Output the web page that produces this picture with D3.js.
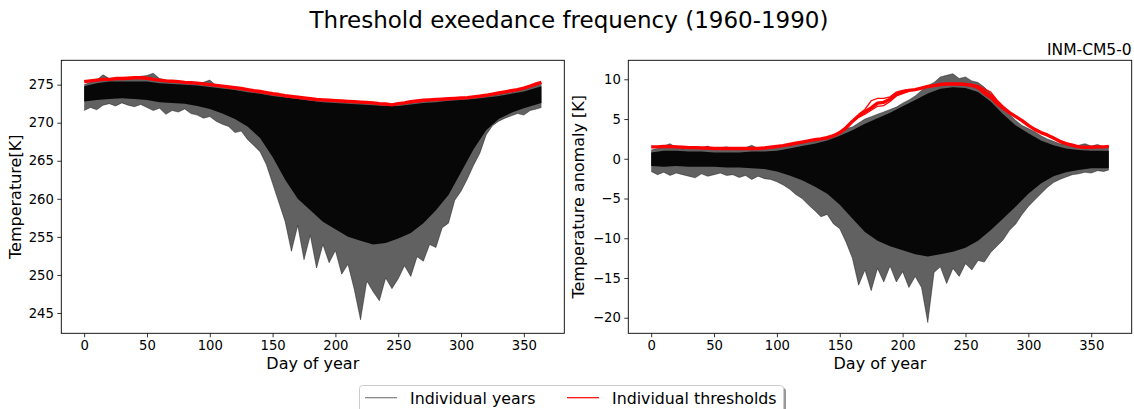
<!DOCTYPE html>
<html>
<head>
<meta charset="utf-8">
<script src="https://cdn.jsdelivr.net/npm/d3@7"></script>
<style>
  body { margin: 0; background: #fff; }
  svg { display: block; font-family: "DejaVu Sans", sans-serif; }
</style>
</head>
<body>
<svg id="chart" width="1134" height="409"></svg>
<script>
// Day of year sampling (every 5 days, plus the last day)
const days = d3.range(0, 365, 5).concat([364]);
const coreDays = d3.range(0, 361, 10).concat([364]);

// Left panel: absolute temperature [K]
const thrL = [
  275.4, 275.5, 275.6, 275.7, 275.7, 275.8, 275.8, 275.85, 275.9, 275.9,
  275.85, 275.7, 275.6, 275.5, 275.45, 275.4, 275.3, 275.25, 275.2, 275.1,
  275.0, 274.9, 274.8, 274.7, 274.6, 274.5, 274.35, 274.2, 274.1, 273.95,
  273.8, 273.7, 273.55, 273.45, 273.35, 273.25, 273.15, 273.05, 273.0, 272.95,
  272.9, 272.85, 272.8, 272.75, 272.7, 272.65, 272.6, 272.5, 272.45, 272.35,
  272.5, 272.6, 272.75, 272.85, 272.95, 273.0, 273.05, 273.1, 273.15, 273.2,
  273.25, 273.3, 273.4, 273.5, 273.6, 273.75, 273.9, 274.05, 274.2, 274.35,
  274.55, 274.8, 275.1, 275.3];
const hiL = [
  275.0, 275.3, 275.6, 276.3, 275.8, 275.9, 275.7, 276.0, 275.9, 276.1,
  276.2, 276.5, 275.8, 275.6, 275.5, 275.3, 275.4, 275.2, 275.1, 275.3,
  275.6, 274.9, 274.8, 274.6, 274.7, 274.4, 274.3, 274.2, 274.0, 273.9,
  273.8, 273.6, 273.5, 273.4, 273.3, 273.2, 273.1, 273.0, 272.9, 272.9,
  272.8, 272.8, 272.7, 272.7, 272.6, 272.6, 272.5, 272.4, 272.4, 272.3,
  272.4, 272.5, 272.6, 272.7, 272.8, 272.9, 273.0, 273.0, 273.1, 273.1,
  273.2, 273.2, 273.3, 273.4, 273.5, 273.6, 273.7, 273.9, 274.0, 274.2,
  274.4, 274.6, 274.9, 275.1];
const loL = [
  271.6, 272.0, 271.7, 272.3, 272.5, 272.2, 272.6, 272.3, 272.1, 272.4,
  272.0, 271.6, 271.9, 271.1, 271.6, 271.4, 271.8, 271.2, 271.0, 270.6,
  270.8, 270.2, 269.8, 269.5, 268.7, 268.9, 267.8, 267.0, 266.2, 264.5,
  262.0, 259.5, 257.0, 253.1, 256.5, 252.0, 255.2, 250.9, 254.0, 251.6,
  253.2, 250.1, 251.4, 248.1, 244.1, 249.2, 247.8, 246.6, 249.6, 248.2,
  249.5, 251.2, 249.8, 252.4, 251.8, 254.0, 253.6, 256.2, 256.8, 259.8,
  261.0, 262.6, 264.4, 266.0, 268.4, 269.6, 270.2, 270.6, 270.9, 271.2,
  271.0, 271.6, 271.8, 272.0];
const coreHiL = [
  274.8, 275.2, 275.4, 275.4, 275.4, 275.4, 275.2, 275.1, 275.0, 274.9,
  274.7, 274.5, 274.3, 274.0, 273.8, 273.5, 273.3, 273.1, 272.9, 272.7,
  272.6, 272.5, 272.4, 272.3, 272.2, 272.2, 272.4, 272.6, 272.7, 272.9,
  273.0, 273.1, 273.3, 273.5, 273.8, 274.1, 274.6, 274.8];
const coreLoL = [
  272.8, 273.0, 273.1, 273.2, 273.1, 273.0, 272.7, 272.6, 272.5, 272.2,
  271.8, 271.2, 270.5, 269.5, 268.0, 265.5, 262.5, 260.0, 258.5, 257.0,
  256.0, 255.0, 254.5, 254.0, 254.2, 254.8, 255.5, 256.8, 258.5, 260.5,
  263.5, 266.5, 269.0, 270.5, 271.3, 271.9, 272.4, 272.6];

// Right panel: temperature anomaly [K]
const thrR = [
  1.5, 1.5, 1.55, 1.55, 1.5, 1.45, 1.4, 1.4, 1.35, 1.35,
  1.3, 1.3, 1.3, 1.3, 1.3, 1.3, 1.3, 1.3, 1.35, 1.45,
  1.55, 1.65, 1.8, 1.95, 2.1, 2.25, 2.4, 2.5, 2.65, 2.9,
  3.3, 3.9, 4.7, 5.4, 5.9, 6.4, 7.0, 7.1, 7.5, 8.1,
  8.4, 8.6, 8.7, 8.9, 9.1, 9.2, 9.35, 9.4, 9.4, 9.4,
  9.35, 9.25, 9.0, 8.4, 7.9, 7.0, 6.4, 5.8, 5.3, 4.8,
  4.2, 3.7, 3.3, 3.0, 2.6, 2.2, 1.9, 1.7, 1.5, 1.45,
  1.45, 1.5, 1.5, 1.55];
// threshold spread where the individual thresholds split apart
const thrVarDays1 = [165, 170, 175, 180, 185, 190, 195, 200, 205];
const thrVarA1 = [5.6, 6.2, 7.3, 7.6, 7.6, 7.8, 8.4, 8.6, 8.7];
const thrVarB1 = [5.2, 5.6, 6.1, 6.6, 6.7, 7.2, 7.9, 8.2, 8.5];
const thrVarDays2 = [255, 260, 265, 270, 275, 280, 285];
const thrVarA2 = [9.3, 9.2, 8.8, 8.4, 7.4, 6.6, 5.9];
const thrVarB2 = [9.2, 8.8, 8.1, 7.6, 6.8, 6.2, 5.7];
const hiR = [
  1.1, 1.3, 1.6, 1.9, 1.4, 1.2, 1.5, 1.3, 1.4, 1.6,
  1.2, 1.4, 1.5, 1.3, 1.2, 1.4, 1.7, 1.3, 1.4, 1.5,
  1.5, 1.7, 1.8, 1.9, 2.0, 2.3, 2.2, 2.5, 2.8, 2.9,
  3.2, 3.8, 4.0, 4.5, 5.0, 5.3, 5.6, 5.9, 6.2, 6.5,
  7.0, 7.4, 7.9, 8.6, 9.2, 9.6, 10.3, 10.5, 10.7, 10.1,
  10.3, 9.8, 9.6, 9.0, 8.2, 7.4, 6.6, 5.6, 4.8, 4.2,
  3.8, 3.4, 2.9, 2.5, 2.2, 1.9, 1.8, 1.6, 1.7, 1.9,
  1.6, 1.8, 1.5, 1.6];
const loR = [
  -1.6, -2.0, -1.7, -2.1, -1.8, -2.0, -2.2, -2.4, -1.9, -2.2,
  -2.0, -1.8, -2.1, -2.0, -2.35, -2.1, -2.6, -2.2, -2.5, -2.6,
  -2.9, -3.3, -3.8, -4.5, -5.0, -5.8, -6.5, -7.3, -7.0, -8.2,
  -8.8, -10.5, -12.5, -15.9, -14.0, -16.6, -13.8, -15.5, -13.5, -15.5,
  -14.2, -16.2, -14.8, -16.2, -20.6, -14.3, -13.6, -15.7, -13.8, -14.8,
  -13.2, -14.0, -12.8, -13.0, -11.8, -11.0, -10.2, -9.0, -8.2, -7.0,
  -6.0, -5.2, -4.4, -3.6, -3.0, -2.6, -2.3, -2.0, -1.9, -1.7,
  -1.8, -1.5, -1.6, -1.4];
const coreHiR = [
  0.8, 1.0, 1.0, 0.9, 0.9, 0.8, 0.8, 0.8, 0.9, 0.9,
  1.0, 1.3, 1.6, 1.9, 2.3, 2.9, 3.6, 4.4, 5.1, 5.8,
  6.6, 7.4, 8.2, 8.8, 9.0, 8.9, 8.4, 7.2, 5.6, 4.2,
  3.2, 2.3, 1.7, 1.3, 1.1, 1.0, 1.0, 1.0];
const coreLoR = [
  -0.9, -1.0, -0.9, -1.0, -1.0, -1.0, -1.1, -1.1, -1.2, -1.3,
  -1.6, -2.1, -2.7, -3.5, -4.4, -5.8, -7.5, -9.2, -10.3, -11.0,
  -11.5, -12.0, -12.3, -12.0, -11.7, -11.2, -10.3, -9.0, -7.5, -6.0,
  -4.4, -3.1, -2.2, -1.7, -1.4, -1.2, -1.2, -1.2];

const xTicks = [0, 50, 100, 150, 200, 250, 300, 350];
const yTicksL = [245, 250, 255, 260, 265, 270, 275];
const yTicksR = [-20, -15, -10, -5, 0, 5, 10];

const svg = d3.select("#chart");
const plotTop = 60.3, plotBottom = 333.3;

const panels = [
  { left: 61.3, right: 564.3, yDomain: [242.33, 278.2], yTicks: yTicksL,
    ylabel: "Temperature[K]", ylabelX: 20.5,
    hi: hiL, lo: loL, coreHi: coreHiL, coreLo: coreLoL, thr: thrL, vars: [] },
  { left: 628.3, right: 1131.7, yDomain: [-21.96, 12.39], yTicks: yTicksR,
    ylabel: "Temperature anomaly [K]", ylabelX: 584,
    hi: hiR, lo: loR, coreHi: coreHiR, coreLo: coreLoR, thr: thrR,
    vars: [[thrVarDays1, thrVarA1], [thrVarDays1, thrVarB1], [thrVarDays2, thrVarA2], [thrVarDays2, thrVarB2]] }
];

const fmt = d => String(d).replace("-", "\u2212");

panels.forEach((p, i) => {
  const x = d3.scaleLinear().domain([-18.2, 382.2]).range([p.left, p.right]);
  const y = d3.scaleLinear().domain(p.yDomain).range([plotBottom, plotTop]);

  const clipId = "clip" + i;
  svg.append("clipPath").attr("id", clipId)
    .append("rect").attr("x", p.left).attr("y", plotTop)
    .attr("width", p.right - p.left).attr("height", plotBottom - plotTop);

  const g = svg.append("g").attr("clip-path", `url(#${clipId})`);

  const outer = days.map((d, k) => ({ day: d, lo: p.lo[k], hi: p.hi[k] }));
  const core = coreDays.map((d, k) => ({ day: d, lo: p.coreLo[k], hi: p.coreHi[k] }));

  const area = d3.area().x(d => x(d.day)).y0(d => y(d.lo)).y1(d => y(d.hi));

  // individual years: spread of all years and the dense middle
  g.append("path").datum(outer).attr("d", area)
    .attr("fill", "#000").attr("fill-opacity", 0.62);
  g.append("path").datum(core).attr("d", area)
    .attr("fill", "#000").attr("fill-opacity", 0.93);
  ["lo", "hi"].forEach(k => {
    g.append("path").datum(outer)
      .attr("d", d3.line().x(d => x(d.day)).y(d => y(d[k])))
      .attr("fill", "none").attr("stroke", "#000")
      .attr("stroke-opacity", 0.5).attr("stroke-width", 0.8);
  });

  // individual thresholds
  g.append("path").datum(days.map((d, k) => [d, p.thr[k]]))
    .attr("d", d3.line().x(d => x(d[0])).y(d => y(d[1])))
    .attr("fill", "none").attr("stroke", "red").attr("stroke-width", 3.4)
    .attr("stroke-linejoin", "round");
  p.vars.forEach(([dd, vv]) => {
    g.append("path").datum(dd.map((d, k) => [d, vv[k]]))
      .attr("d", d3.line().x(d => x(d[0])).y(d => y(d[1])))
      .attr("fill", "none").attr("stroke", "red").attr("stroke-width", 1.3);
  });

  // axes
  const xAxis = svg.append("g")
    .attr("transform", `translate(0,${plotBottom})`)
    .call(d3.axisBottom(x).tickValues(xTicks).tickSize(4).tickPadding(3.5).tickSizeOuter(0));
  const yAxis = svg.append("g")
    .attr("transform", `translate(${p.left},0)`)
    .call(d3.axisLeft(y).tickValues(p.yTicks).tickFormat(fmt).tickSize(4).tickPadding(3.5).tickSizeOuter(0));
  [xAxis, yAxis].forEach(a => {
    a.select(".domain").remove();
    a.selectAll("text").attr("font-size", 13.2).attr("fill", "#000")
      .attr("font-family", "DejaVu Sans");
    a.selectAll("line").attr("stroke", "#000").attr("stroke-width", 0.8);
  });

  svg.append("rect").attr("x", p.left).attr("y", plotTop)
    .attr("width", p.right - p.left).attr("height", plotBottom - plotTop)
    .attr("fill", "none").attr("stroke", "#000").attr("stroke-width", 0.9);

  svg.append("text")
    .attr("x", (p.left + p.right) / 2).attr("y", 369)
    .attr("text-anchor", "middle").attr("font-size", 16)
    .text("Day of year");

  svg.append("text")
    .attr("transform", `translate(${p.ylabelX},${(plotTop + plotBottom) / 2}) rotate(-90)`)
    .attr("text-anchor", "middle").attr("font-size", 16)
    .text(p.ylabel);
});

// titles
svg.append("text").attr("x", 569).attr("y", 28)
  .attr("text-anchor", "middle").attr("font-size", 23)
  .text("Threshold exeedance frequency (1960-1990)");
svg.append("text").attr("x", 1131.7).attr("y", 55)
  .attr("text-anchor", "end").attr("font-size", 15.5)
  .text("INM-CM5-0");

// legend
const lg = svg.append("g");
lg.append("rect").attr("x", 362).attr("y", 388).attr("width", 424).attr("height", 32)
  .attr("rx", 3).attr("fill", "#999");
lg.append("rect").attr("x", 359.5).attr("y", 385.5).attr("width", 424).attr("height", 32)
  .attr("rx", 3).attr("fill", "#fff").attr("stroke", "#ccc");
const legendItems = [
  { label: "Individual years", color: "#000", opacity: 0.5, x: 365 },
  { label: "Individual thresholds", color: "red", opacity: 1, x: 567 }
];
legendItems.forEach(it => {
  lg.append("line").attr("x1", it.x).attr("x2", it.x + 32)
    .attr("y1", 397.7).attr("y2", 397.7)
    .attr("stroke", it.color).attr("stroke-opacity", it.opacity).attr("stroke-width", 1.2);
  lg.append("text").attr("x", it.x + 45).attr("y", 403.5)
    .attr("font-size", 15.8).text(it.label);
});
</script>
</body>
</html>
